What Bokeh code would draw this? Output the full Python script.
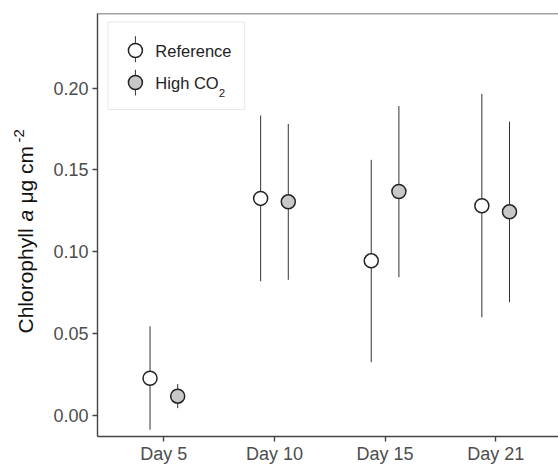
import math
from bokeh.plotting import figure
from bokeh.layouts import row
from bokeh.models import ColumnDataSource, FixedTicker, PrintfTickFormatter, Span, Label, BoxAnnotation
from bokeh.core.properties import value
from bokeh.embed import file_html
from bokeh.resources import INLINE

# ---- data ----
days = ["Day 5", "Day 10", "Day 15", "Day 21"]
ref_mean = [0.0225, 0.1325, 0.0943, 0.1280]
ref_lower = [-0.0090, 0.0818, 0.0323, 0.0598]
ref_upper = [0.0543, 0.1832, 0.1561, 0.1964]
high_mean = [0.0115, 0.1304, 0.1367, 0.1243]
high_lower = [0.0042, 0.0827, 0.0843, 0.0690]
high_upper = [0.0190, 0.1780, 0.1890, 0.1795]
series_names = ["Reference", "High CO"]
y_ticks = [0.00, 0.05, 0.10, 0.15, 0.20]

# ---- layout ----
W, H = 558, 466
LABW = 50                      # strip holding the rotated y-axis title
LEFT, TOP, BOTTOM = 96, 13, 30
FW, FH = W - LEFT, H - TOP - BOTTOM
X0, X1 = 0.4, 4.568
Y0, Y1 = -0.01315, 0.2456
DODGE = 0.125
FONT = "Liberation Sans"
AXIS_COL = "#444444"
TICK_TXT = "#4d4d4d"

def xd(px):
    return X0 + (px - LEFT) * (X1 - X0) / FW

def yd(py):
    return Y1 - (py - TOP) * (Y1 - Y0) / FH

pos = list(range(1, len(days) + 1))
ref_src = ColumnDataSource(dict(x=[i - DODGE for i in pos], m=ref_mean, lo=ref_lower, hi=ref_upper))
high_src = ColumnDataSource(dict(x=[i + DODGE for i in pos], m=high_mean, lo=high_lower, hi=high_upper))

p = figure(width=W - LABW, height=H, x_range=(X0, X1), y_range=(Y0, Y1),
           output_backend="svg", toolbar_location=None,
           min_border_left=LEFT - LABW, min_border_right=0, min_border_top=TOP, min_border_bottom=BOTTOM)
p.xgrid.visible = False
p.ygrid.visible = False
p.outline_line_color = None
p.background_fill_color = "white"
p.border_fill_color = "white"

for ax in (p.xaxis[0], p.yaxis[0]):
    ax.axis_line_color = AXIS_COL
    ax.axis_line_width = 1.4
    ax.major_tick_line_color = AXIS_COL
    ax.major_tick_line_width = 1.4
    ax.major_tick_out = 5
    ax.major_tick_in = 0
    ax.minor_tick_line_color = None
    ax.major_label_text_font = FONT
    ax.major_label_text_font_size = "18px"
    ax.major_label_text_color = TICK_TXT

p.xaxis.ticker = FixedTicker(ticks=pos)
p.xaxis.major_label_overrides = {i: d for i, d in zip(pos, days)}
p.xaxis.major_label_standoff = 2
p.yaxis.ticker = FixedTicker(ticks=y_ticks)
p.yaxis.formatter = PrintfTickFormatter(format="%.2f")
p.yaxis.major_label_standoff = 4

# top border line
p.add_layout(Span(location=Y1, dimension="width", line_color=AXIS_COL, line_width=1.4))

# error bars and points
for src, fill in ((ref_src, "white"), (high_src, "#c8c8c8")):
    p.segment(x0="x", y0="lo", x1="x", y1="hi", source=src, line_color="#333333", line_width=1)
    p.scatter(x="x", y="m", source=src, marker="circle", size=14, fill_color=fill,
              line_color="#222222", line_width=1.5)

# ---- legend (drawn manually for the subscript) ----
p.add_layout(BoxAnnotation(left=xd(106.5), right=xd(243.5), top=yd(21.5), bottom=yd(109),
                           fill_color=None, fill_alpha=0, line_color="#b0b0b0", line_width=1))
key_x = xd(134)
key_src = ColumnDataSource(dict(x=[key_x, key_x], y0=[yd(35.7), yd(69.3)], y1=[yd(61.7), yd(95)],
                                y=[yd(50), yd(82)], fill=["white", "#c8c8c8"]))
p.segment(x0="x", y0="y0", x1="x", y1="y1", source=key_src, line_color="#333333", line_width=1)
p.scatter(x="x", y="y", source=key_src, marker="circle", size=14, fill_color="fill",
          line_color="#222222", line_width=1.5)
p.add_layout(Label(x=xd(154), y=yd(50), text=series_names[0], text_font=FONT,
                   text_font_size="16.5px", text_color="#222222", text_baseline="middle"))
p.add_layout(Label(x=xd(154), y=yd(82), text=series_names[1], text_font=FONT,
                   text_font_size="16.5px", text_color="#222222", text_baseline="middle"))
p.add_layout(Label(x=xd(217.5), y=yd(92.5), text="2", text_font=FONT,
                   text_font_size="11.5px", text_color="#222222", text_baseline="alphabetic"))

# ---- y axis title strip: italic a and superscript -2 ----
# frame borders equal to the main plot, so data y = H - pixel row
lab = figure(width=LABW, height=H, x_range=(0, LABW), y_range=(BOTTOM, H - TOP),
             output_backend="svg", toolbar_location=None,
             x_axis_location=None, y_axis_location=None,
             min_border_left=0, min_border_right=0, min_border_top=TOP, min_border_bottom=BOTTOM)
lab.xgrid.visible = False
lab.ygrid.visible = False
lab.outline_line_color = None
lab.background_fill_color = "white"
lab.border_fill_color = "white"

BASE_X = 25.0
title_src = ColumnDataSource(dict(
    x=[BASE_X, BASE_X, BASE_X, BASE_X - 6.5],
    y=[H - 333.0, H - 221.0, H - 203.0, H - 142.0],
    t=["Chlorophyll", "a", "\u03bcg cm", "-2"],
    style=["normal", "italic", "normal", "normal"],
    size=["21px", "21px", "21px", "15px"],
))
lab.text(x="x", y="y", text="t", source=title_src, angle=math.pi / 2,
         text_font=value(FONT), text_font_style="style", text_font_size="size",
         text_color="#111111", text_align="left", text_baseline="alphabetic")

layout = row(lab, p, spacing=0)
open("out.html", "w").write(file_html(layout, INLINE))
